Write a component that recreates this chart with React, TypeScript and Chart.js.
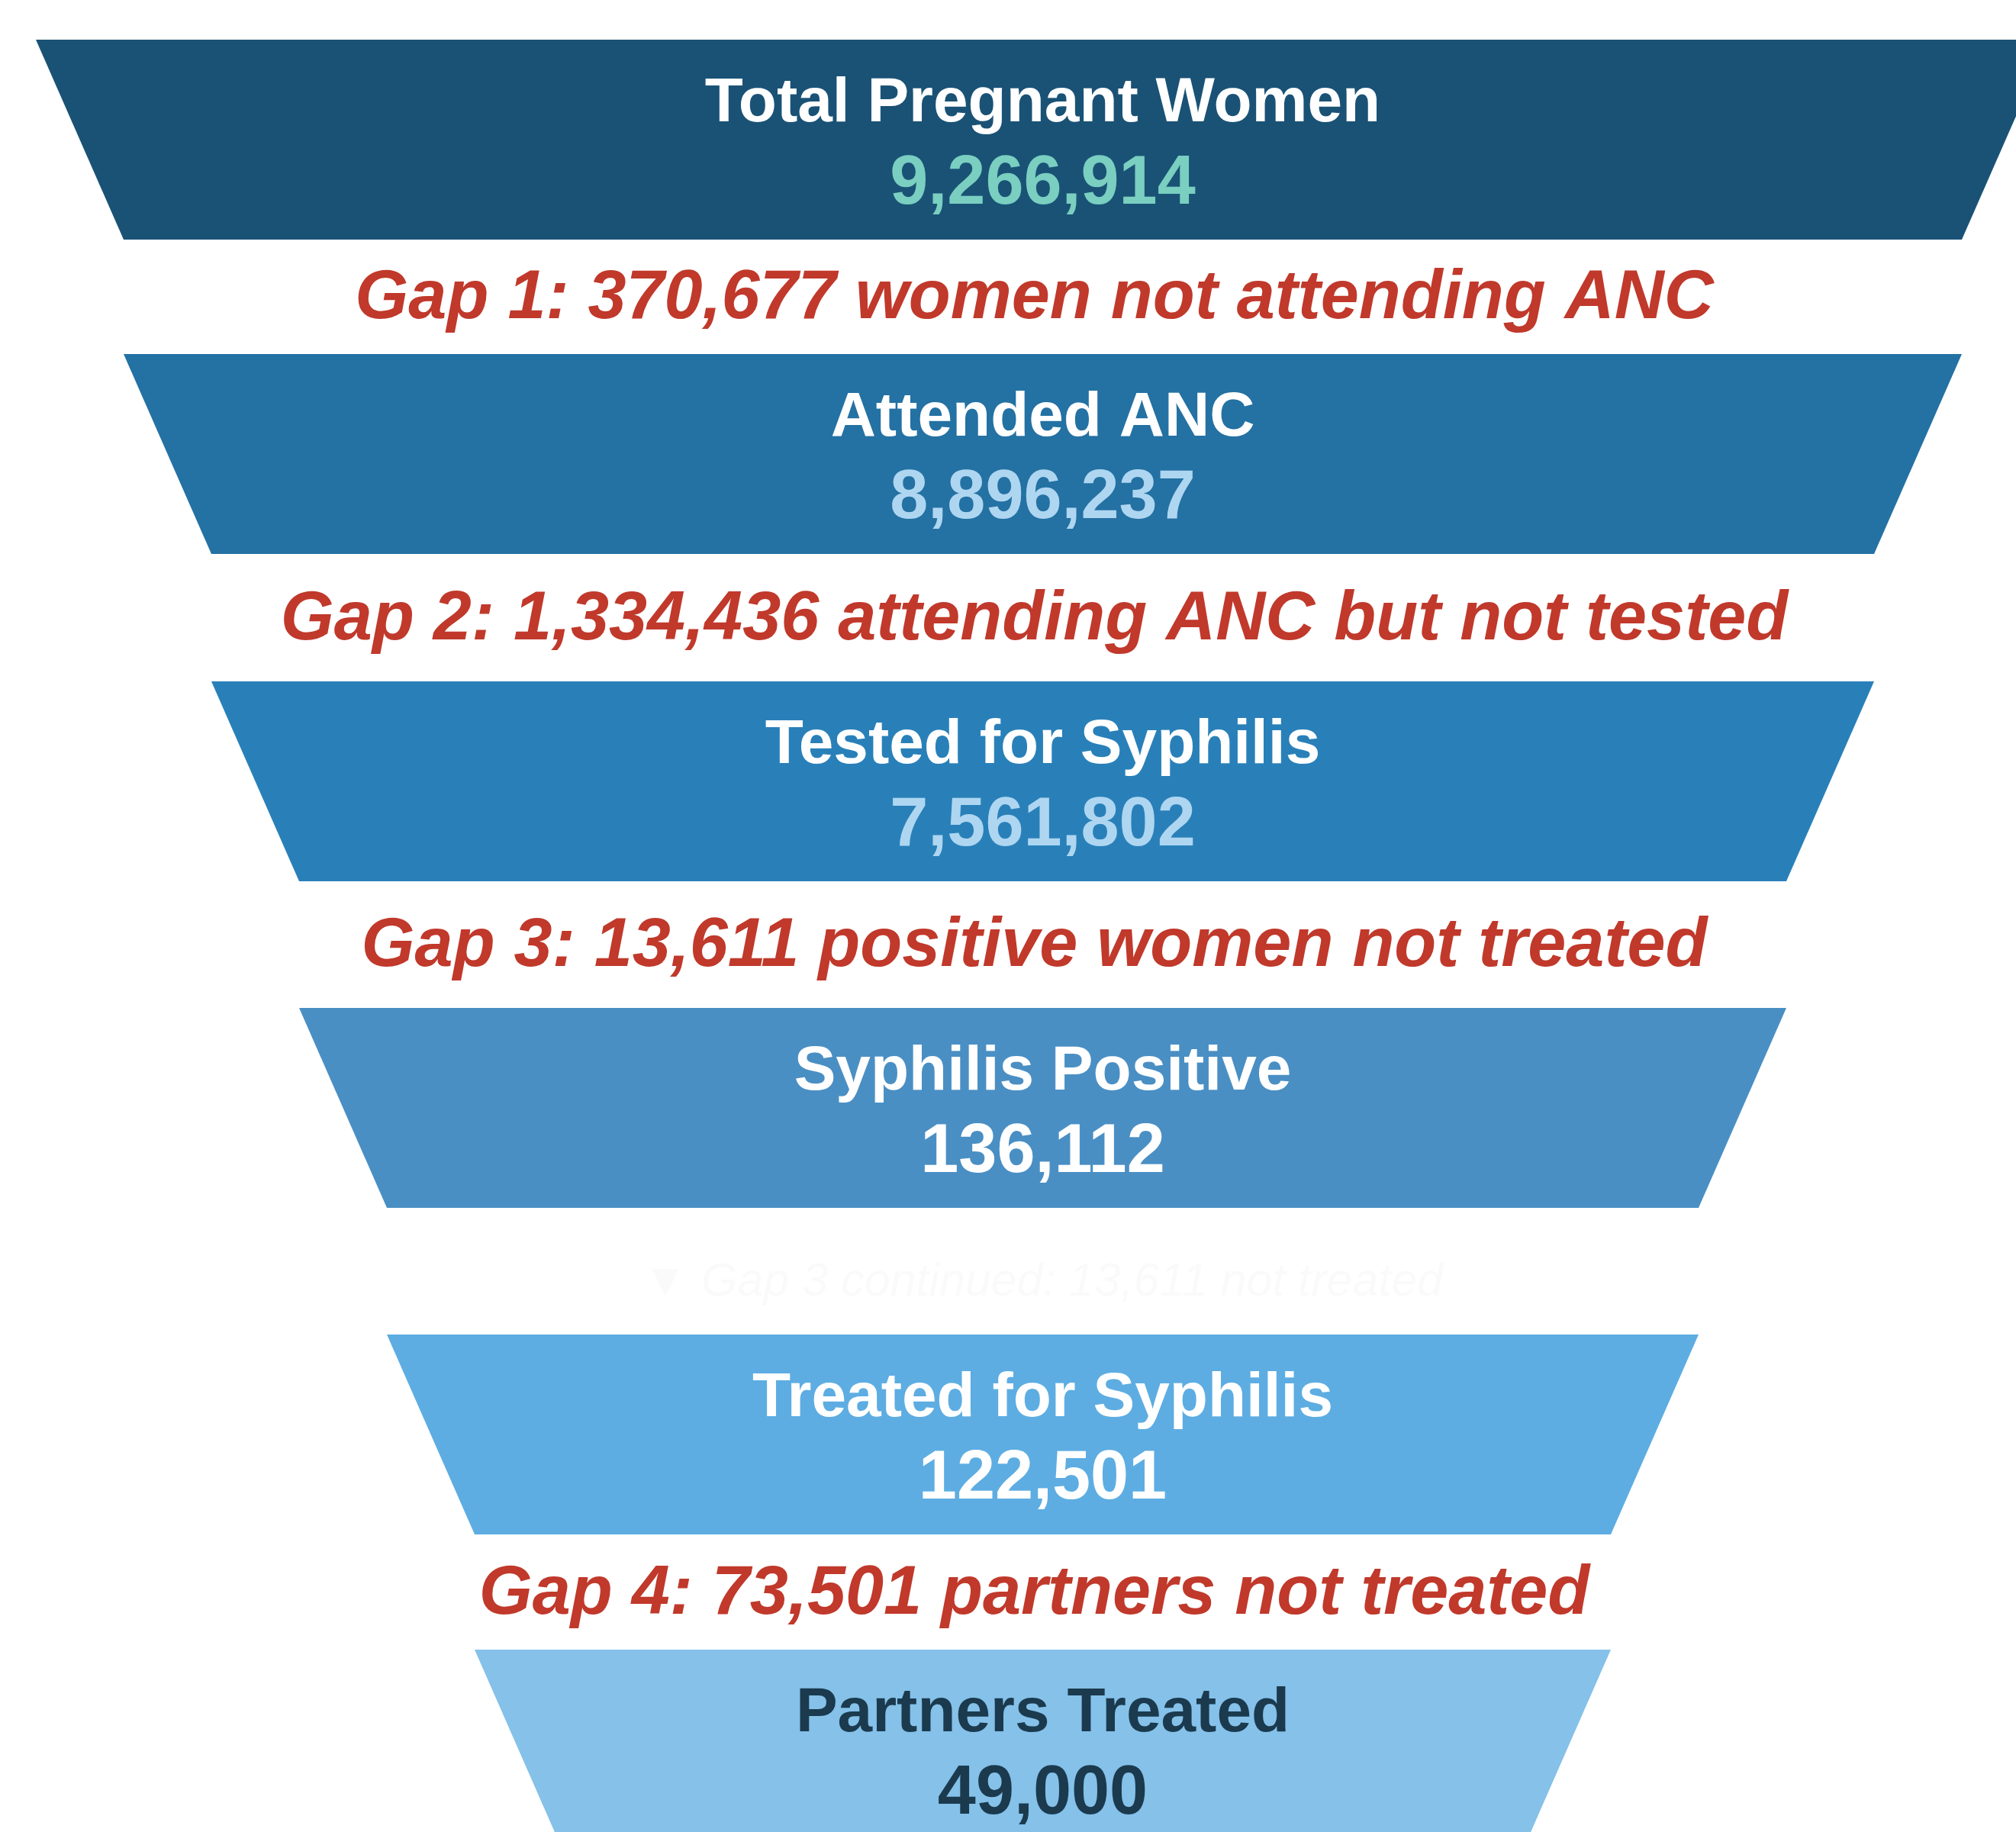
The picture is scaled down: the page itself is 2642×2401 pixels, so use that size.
import React, { useEffect, useRef } from "react";
import { Chart, registerables } from "chart.js";

Chart.register(...registerables);

// ---- data ----
const stageLabels = [
  "Total Pregnant Women",
  "Attended ANC",
  "Tested for Syphilis",
  "Syphilis Positive",
  "Treated for Syphilis",
  "Partners Treated",
];
const stageValues = [9266914, 8896237, 7561802, 136112, 122501, 49000];
const gapLabels = [
  "Gap 1: 370,677 women not attending ANC",
  "Gap 2: 1,334,436 attending ANC but not tested",
  "Gap 3: 13,611 positive women not treated",
  "\u25BC Gap 3 continued: 13,611 not treated",
  "Gap 4: 73,501 partners not treated",
];
const gapIsFaint = [false, false, false, true, false];

// ---- styles ----
const bandColors = ["#1A5276", "#2471A3", "#2980B9", "#4A8FC4", "#5DADE2", "#85C1E9"];
const titleColors = ["#FFFFFF", "#FFFFFF", "#FFFFFF", "#FFFFFF", "#FFFFFF", "#1B3A4E"];
const numberColors = ["#7ACFC0", "#AED6F1", "#AED6F1", "#FFFFFF", "#FFFFFF", "#1B3A4E"];
const GAP_COLOR = "#C0392B";
const FAINT_COLOR = "rgba(150,120,120,0.035)";

// ---- layout (in scale units) ----
const W = 2642;
const H = 2401;
const CENTER_X = 1366.5;
const FIRST_TOP = 52;
const BAND_H = 262;
const GAP_H = [150, 167, 166, 166, 151];
const HALF_W0 = 1319.5;
const STEP = 115;
const TITLE_OFF = 107;
const NUMBER_OFF = 215;
const GAP_SHIFT_X = -11;
const FONT = '"Liberation Sans", Arial, Helvetica, sans-serif';

function bandTop(i: number): number {
  let t = FIRST_TOP;
  for (let k = 0; k < i; k++) t += BAND_H + GAP_H[k];
  return t;
}

const fmt = (v: number) => v.toLocaleString("en-US");

const funnelText = {
  id: "funnelText",
  afterDatasetsDraw(chart: any) {
    const { ctx, scales } = chart;
    const xs = scales.x;
    const ys = scales.y;
    const cx = xs.getPixelForValue(0);
    const gx = xs.getPixelForValue(GAP_SHIFT_X);
    ctx.save();
    ctx.textAlign = "center";
    ctx.textBaseline = "alphabetic";
    stageLabels.forEach((label, i) => {
      const top = bandTop(i);
      ctx.font = `bold 82px ${FONT}`;
      ctx.fillStyle = titleColors[i];
      ctx.fillText(label, cx, ys.getPixelForValue(top + TITLE_OFF));
      ctx.font = `bold 90px ${FONT}`;
      ctx.fillStyle = numberColors[i];
      ctx.fillText(fmt(stageValues[i]), cx, ys.getPixelForValue(top + NUMBER_OFF));
    });
    gapLabels.forEach((label, i) => {
      const gTop = bandTop(i) + BAND_H;
      const mid = gTop + GAP_H[i] / 2;
      if (gapIsFaint[i]) {
        ctx.font = `italic 61px ${FONT}`;
        ctx.fillStyle = FAINT_COLOR;
        ctx.fillText(label, cx, ys.getPixelForValue(mid + 32));
      } else {
        ctx.font = `italic bold 90px ${FONT}`;
        ctx.fillStyle = GAP_COLOR;
        ctx.fillText(label, gx, ys.getPixelForValue(mid + 28));
      }
    });
    ctx.restore();
  },
};

export default function App() {
  const ref = useRef<HTMLCanvasElement | null>(null);

  useEffect(() => {
    if (!ref.current) return;
    const datasets = stageLabels.map((label, i) => {
      const top = bandTop(i);
      const bot = top + BAND_H;
      const hwT = HALF_W0 - i * STEP;
      const hwB = HALF_W0 - (i + 1) * STEP;
      return {
        type: "line" as const,
        label,
        data: [
          { x: -hwT, y: top },
          { x: hwT, y: top },
          { x: hwB, y: bot },
          { x: -hwB, y: bot },
        ],
        showLine: true,
        fill: "shape",
        backgroundColor: bandColors[i],
        borderColor: bandColors[i],
        borderWidth: 0,
        pointRadius: 0,
        pointHoverRadius: 0,
        tension: 0,
      };
    });

    const chart = new Chart(ref.current, {
      type: "scatter",
      data: { datasets: datasets as any },
      options: {
        animation: false,
        responsive: false,
        devicePixelRatio: 1,
        events: [],
        layout: { padding: 0 },
        plugins: {
          legend: { display: false },
          tooltip: { enabled: false },
          title: { display: false },
        },
        scales: {
          x: { type: "linear", min: -CENTER_X, max: W - CENTER_X, display: false },
          y: { type: "linear", min: 0, max: H, reverse: true, display: false },
        },
      } as any,
      plugins: [funnelText],
    });
    return () => chart.destroy();
  }, []);

  return (
    <div style={{ position: "absolute", left: 0, top: 0, width: W, height: H, background: "#FFFFFF" }}>
      <canvas ref={ref} width={W} height={H} style={{ display: "block", width: W, height: H }} />
    </div>
  );
}
